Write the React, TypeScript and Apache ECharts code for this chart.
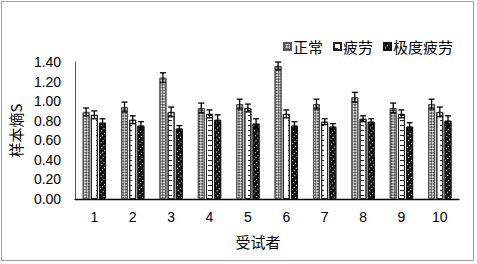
import React, { useEffect, useRef } from "react";
import * as echarts from "echarts";

const categories = ["1", "2", "3", "4", "5", "6", "7", "8", "9", "10"];
const seriesNames = ["正常", "疲劳", "极度疲劳"];
const normalVals = [0.89, 0.94, 1.24, 0.93, 0.97, 1.36, 0.97, 1.04, 0.93, 0.97];
const fatigueVals = [0.86, 0.81, 0.89, 0.87, 0.93, 0.87, 0.79, 0.82, 0.87, 0.89];
const extremeVals = [0.78, 0.75, 0.72, 0.81, 0.77, 0.75, 0.74, 0.79, 0.74, 0.80];
const normalErr = [0.04, 0.05, 0.05, 0.05, 0.05, 0.04, 0.05, 0.05, 0.05, 0.05];
const fatigueErr = [0.04, 0.04, 0.05, 0.04, 0.04, 0.04, 0.03, 0.03, 0.04, 0.05];
const extremeErr = [0.04, 0.04, 0.03, 0.05, 0.05, 0.04, 0.03, 0.03, 0.04, 0.05];
const yTicks = [0, 0.2, 0.4, 0.6, 0.8, 1.0, 1.2, 1.4];

const BAR_W = 7;
const BAR_STEP = 8.2;

export default function App() {
  const ref = useRef<HTMLDivElement>(null);
  useEffect(() => {
    if (!ref.current) return;
    const chart = echarts.init(ref.current, null, { renderer: "svg" });
    const values = [normalVals, fatigueVals, extremeVals];
    const errs = [normalErr, fatigueErr, extremeErr];
    const styles: any[] = [
      {
        color: "#d8d8d8",
        borderColor: "#555",
        borderWidth: 1,
        decal: {
          symbol: "rect",
          symbolSize: 1,
          color: "#555555",
          dashArrayX: [[2, 2], [0, 2, 2, 0]],
          dashArrayY: [2, 0],
          rotation: Math.PI / 4,
        },
      },
      {
        color: "#ffffff",
        borderColor: "#222",
        borderWidth: 1,
        decal: {
          symbol: "rect",
          symbolSize: 1,
          color: "#222",
          dashArrayX: [4, 4],
          dashArrayY: [1, 4],
        },
      },
      {
        color: "#111111",
        borderColor: "#111",
        borderWidth: 1,
        decal: {
          symbol: "rect",
          symbolSize: 1,
          color: "#ffffff",
          dashArrayX: [1, 2],
          dashArrayY: [1, 3],
        },
      },
    ];
    const barSeries = values.map((v, i) => ({
      name: seriesNames[i],
      type: "bar",
      data: v,
      barWidth: BAR_W,
      barGap: "17%",
      itemStyle: styles[i],
    }));
    const errSeries = values.map((v, i) => ({
      type: "custom",
      name: seriesNames[i] + "误差",
      silent: true,
      z: 10,
      data: v.map((val, k) => [k, val, errs[i][k]]),
      encode: { x: 0, y: 1 },
      renderItem: (params: any, api: any) => {
        const idx = api.value(0);
        const val = api.value(1);
        const e = api.value(2);
        const hi = api.coord([idx, val + e]);
        const lo = api.coord([idx, val - e]);
        const x = hi[0] + (i - 1) * BAR_STEP;
        const cap = 3;
        const st = { stroke: "#000", lineWidth: 1.3 };
        return {
          type: "group",
          children: [
            { type: "line", shape: { x1: x, y1: hi[1], x2: x, y2: lo[1] }, style: st },
            { type: "line", shape: { x1: x - cap, y1: hi[1], x2: x + cap, y2: hi[1] }, style: st },
            { type: "line", shape: { x1: x - cap, y1: lo[1], x2: x + cap, y2: lo[1] }, style: st },
          ],
        };
      },
    }));
    chart.setOption({
      animation: false,
      aria: { enabled: true, decal: { show: true } },
      grid: { left: 71, right: 18, top: 62, bottom: 65 },
      legend: {
        data: seriesNames,
        left: 278,
        top: 34,
        itemWidth: 7,
        itemHeight: 7,
        itemGap: 10,
        icon: "rect",
        textStyle: {
          fontFamily: "Noto Sans CJK SC",
          fontSize: 15,
          color: "#000",
          padding: [0, 0, 0, -3],
        },
      },
      xAxis: {
        type: "category",
        data: categories,
        axisLine: { lineStyle: { color: "#000", width: 1.3 } },
        axisTick: { show: false },
        axisLabel: {
          fontFamily: "Liberation Sans",
          fontSize: 14,
          color: "#000",
          margin: 11,
        },
      },
      yAxis: {
        type: "value",
        min: 0,
        max: 1.4,
        interval: 0.2,
        name: "样本熵S",
        nameLocation: "middle",
        nameRotate: 90,
        nameGap: 50,
        nameTextStyle: {
          fontFamily: "Noto Sans CJK SC",
          fontSize: 15,
          color: "#000",
        },
        axisLine: { show: true, lineStyle: { color: "#555", width: 1 } },
        axisTick: { show: false },
        splitLine: { show: false },
        axisLabel: {
          fontFamily: "Liberation Sans",
          fontSize: 14,
          color: "#000",
          margin: 14,
          formatter: (v: number) => (yTicks.some((t) => Math.abs(t - v) < 1e-9) ? v.toFixed(2) : ""),
        },
      },
      graphic: [
        {
          type: "rect",
          shape: { x: 1.5, y: 1.5, width: 472, height: 259 },
          style: { fill: "none", stroke: "#a0a0a0", lineWidth: 1 },
          silent: true,
        },
        {
          type: "text",
          x: 258,
          y: 241,
          style: {
            text: "受试者",
            fontFamily: "Noto Sans CJK SC",
            fontSize: 15,
            fill: "#000",
            align: "center",
            verticalAlign: "middle",
          },
        },
      ],
      series: [...barSeries, ...errSeries],
    });
    return () => chart.dispose();
  }, []);
  return (
    <div
      ref={ref}
      style={{ position: "fixed", left: 0, top: 0, width: 477, height: 264, background: "#fff" }}
    />
  );
}
